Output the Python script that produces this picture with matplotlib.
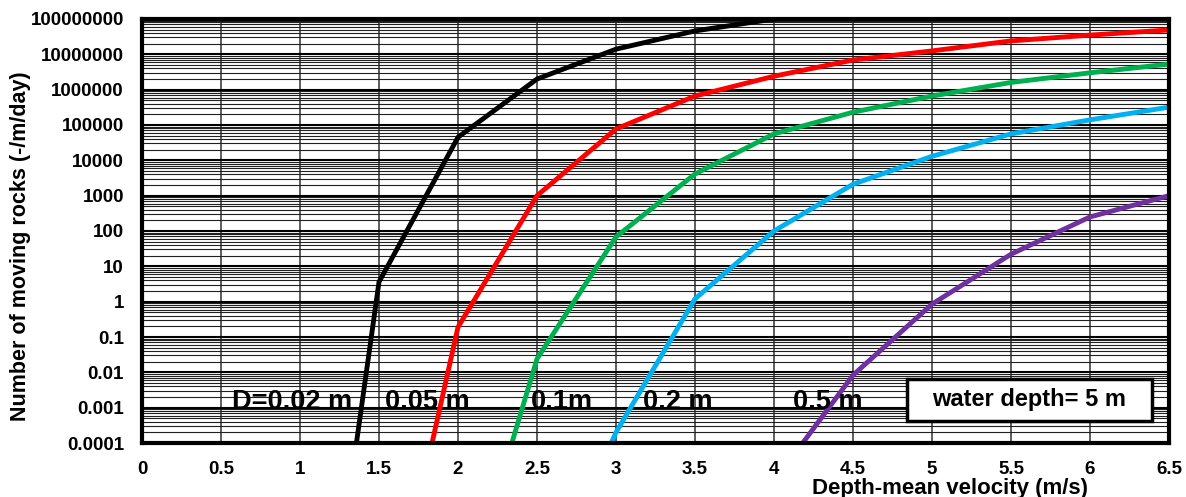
import numpy as np
import matplotlib.pyplot as plt
from matplotlib.patches import Rectangle
from matplotlib.ticker import FixedLocator, FixedFormatter

plt.rcParams["font.family"] = ["Liberation Sans", "DejaVu Sans"]
plt.rcParams["font.weight"] = "bold"

# depth-mean velocity (m/s) and number of moving rocks per grain size
vel_002 = [1.0, 1.5, 2.0, 2.5, 3.0, 3.5, 4.0, 4.5]
n_002 = [4e-16, 3.6, 4.5e4, 2.0e6, 1.4e7, 4.6e7, 1.0e8, 1.8e8]

vel_005 = [1.5, 2.0, 2.5, 3.0, 3.5, 4.0, 4.5, 5.0, 5.5, 6.0, 6.5]
n_005 = [2e-11, 0.19, 1000, 7.7e4, 6.6e5, 2.4e6, 6.9e6, 1.25e7, 2.4e7, 3.5e7, 4.9e7]

vel_01 = [2.0, 2.5, 3.0, 3.5, 4.0, 4.5, 5.0, 5.5, 6.0, 6.5]
n_01 = [8e-10, 0.024, 68, 4100, 5.6e4, 2.3e5, 6.6e5, 1.6e6, 3.0e6, 5.3e6]

vel_02 = [2.5, 3.0, 3.5, 4.0, 4.5, 5.0, 5.5, 6.0, 6.5]
n_02 = [2e-9, 2e-4, 1.2, 100, 2100, 1.3e4, 5.6e4, 1.4e5, 3.2e5]

vel_05 = [4.0, 4.5, 5.0, 5.5, 6.0, 6.5]
n_05 = [8e-6, 0.0083, 0.85, 22, 250, 1000]

size_labels = ["D=0.02 m", "0.05 m", "0.1m", "0.2 m", "0.5 m"]
label_x = [0.57, 1.54, 2.46, 3.17, 4.12]
colors = ["#000000", "#ff0000", "#00b050", "#00b0f0", "#7030a0"]

x_ticks = [0, 0.5, 1, 1.5, 2, 2.5, 3, 3.5, 4, 4.5, 5, 5.5, 6, 6.5]
y_ticks = [1e-4, 1e-3, 1e-2, 1e-1, 1, 10, 100, 1e3, 1e4, 1e5, 1e6, 1e7, 1e8]
y_tick_labels = ["0.0001", "0.001", "0.01", "0.1", "1", "10", "100", "1000",
                 "10000", "100000", "1000000", "10000000", "100000000"]

fig = plt.figure(figsize=(11.86, 4.97), dpi=100)
ax = fig.add_axes([142 / 1186, 1 - 443 / 497, 1027 / 1186, 424 / 497])

series = [(vel_002, n_002), (vel_005, n_005), (vel_01, n_01),
          (vel_02, n_02), (vel_05, n_05)]
for (v, n), c in zip(series, colors):
    ax.plot(v, n, color=c, lw=3.5, solid_joinstyle="miter", zorder=3)

ax.set_yscale("log")
ax.set_xlim(0, 6.5)
ax.set_ylim(1e-4, 1e8)

ax.xaxis.set_major_locator(FixedLocator(x_ticks))
ax.set_xticklabels([f"{t:g}" for t in x_ticks])
ax.yaxis.set_major_locator(FixedLocator(y_ticks))
ax.yaxis.set_major_formatter(FixedFormatter(y_tick_labels))
minor = [m * 10.0 ** e for e in range(-4, 8) for m in range(2, 10)]
ax.yaxis.set_minor_locator(FixedLocator(minor))
ax.yaxis.set_minor_formatter(FixedFormatter([""] * len(minor)))

ax.tick_params(axis="both", which="both", length=0, labelsize=13.5)
ax.tick_params(axis="y", pad=13)
ax.tick_params(axis="x", pad=13)
for lab in ax.get_xticklabels() + ax.get_yticklabels():
    lab.set_fontweight("bold")

ax.grid(True, which="major", axis="x", color="#303030", lw=1.1, zorder=1)
ax.grid(True, which="major", axis="y", color="black", lw=1.5, zorder=1)
ax.grid(True, which="minor", axis="y", color="#202020", lw=0.8, zorder=1)

for s in ax.spines.values():
    s.set_linewidth(3)
    s.set_zorder(4)

ax.set_ylabel("Number of moving rocks (-/m/day)", fontsize=15.5, fontweight="bold",
              va="center")
ax.yaxis.set_label_coords(-0.118, 0.465)
ax.set_xlabel("Depth-mean velocity (m/s)", fontsize=16, fontweight="bold", va="top")
ax.xaxis.set_label_coords((950 - 142) / 1027, -0.082)

for txt, x in zip(size_labels, label_x):
    ax.text(x, 1.45e-3, txt, fontsize=19.5, fontweight="bold", va="center",
            ha="left", zorder=5)

ax.add_patch(Rectangle((0.745, 0.052), 0.238, 0.099, transform=ax.transAxes,
                       fc="white", ec="black", lw=2.5, zorder=6))
ax.text(0.864, 0.1015, "water depth= 5 m", transform=ax.transAxes,
        fontsize=17, fontweight="bold", ha="center", va="center", zorder=7)

fig.savefig("out.png", dpi=100)
